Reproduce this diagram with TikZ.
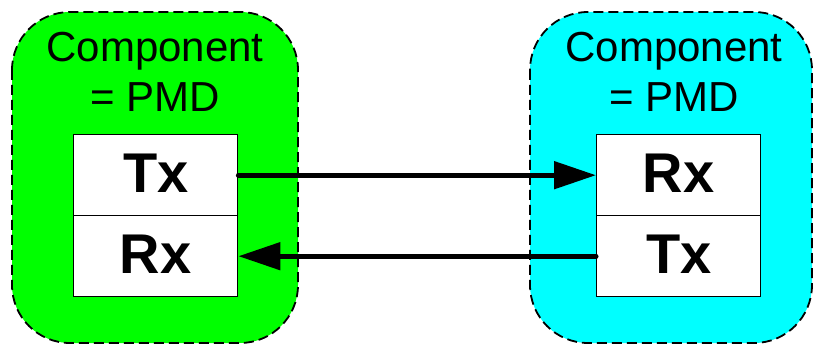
\documentclass[tikz,border=0pt]{standalone}
\usepackage{fontspec}
\setmainfont{Liberation Sans}
\usetikzlibrary{arrows.meta}
\begin{document}
\begin{tikzpicture}[x=1pt,y=-1pt,
  component/.style={draw=black,line width=1.8pt,dash pattern=on 10pt off 5pt,rounded corners=58pt},
  label/.style={font=\fontsize{42}{50}\selectfont,anchor=base,inner sep=0pt},
  port/.style={draw=black,fill=white,line width=1.4pt,minimum width=164pt,minimum height=81pt,inner sep=0pt,anchor=north west,text height=40pt,text depth=6pt,font=\fontsize{56}{62}\selectfont\bfseries},
  link/.style={line width=5pt,line cap=round,-{Triangle[length=42pt,width=27pt]}}]
\useasboundingbox (0,0) rectangle (813,344);
% component boxes
\draw[component,fill={rgb,255:red,0;green,255;blue,0}] (12,12) rectangle (298,343);
\draw[component,fill={rgb,255:red,0;green,255;blue,255}] (530,12) rectangle (812,343);
% titles
\node[label] (lt1) at (155,62) {Component};
\node[label] (lt2) at (155,112) {= PMD};
\node[label] (rt1) at (674,62) {Component};
\node[label] (rt2) at (674,112) {= PMD};
% transmitter / receiver blocks
\node[port] (ltx) at (73,134) {Tx};
\node[port] (lrx) at (73,215) {Rx};
\node[port] (rrx) at (596,134) {Rx};
\node[port] (rtx) at (596,215) {Tx};
% links
\draw[link] (ltx.east) -- (rrx.west);
\draw[link] (rtx.west) -- (lrx.east);
\end{tikzpicture}
\end{document}
